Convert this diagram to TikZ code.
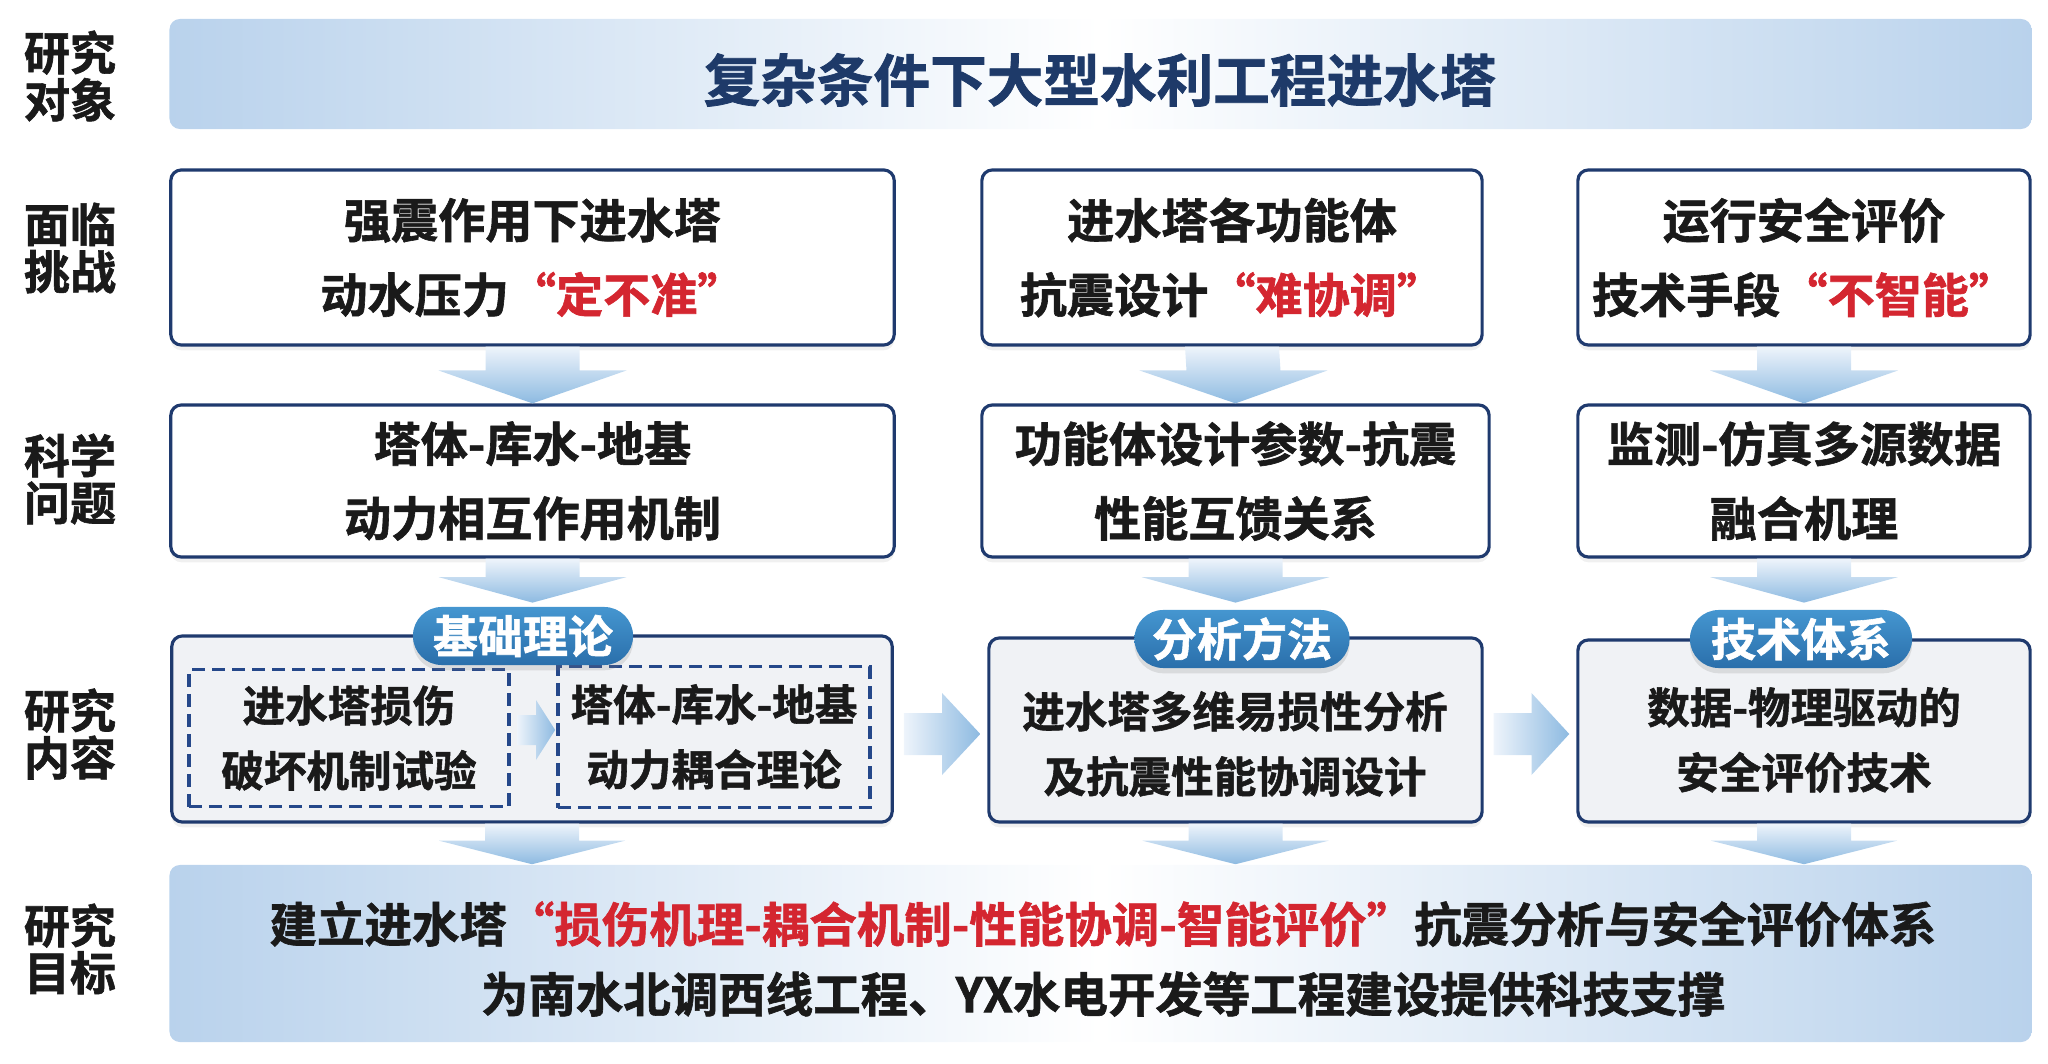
\documentclass[tikz,border=0pt]{standalone}
\usepackage{fontspec}
\setmainfont{Noto Sans CJK SC}[BoldFont={Noto Sans CJK SC Bold},
  BoldFeatures={FakeBold=1.3}]
\usepackage{tikz}
\usetikzlibrary{calc, shadows, positioning}
\usepackage{xcolor}
\definecolor{navy}{HTML}{1F3A6E}
\definecolor{titlenavy}{HTML}{1E3A69}
\definecolor{ink}{HTML}{1A1A1A}
\definecolor{hotred}{HTML}{D42630}
\definecolor{barblue}{HTML}{B9D2EC}
\definecolor{boxgrey}{HTML}{F0F2F5}
\definecolor{dashblue}{HTML}{25488A}
\definecolor{pilltop}{HTML}{4596D0}
\definecolor{pillbot}{HTML}{2A6FAB}
\definecolor{arrowtop}{HTML}{EEF4FB}
\definecolor{arrowblue}{HTML}{8DBAE1}
\newcommand{\redq}[1]{\textcolor{hotred}{#1}}
\newcommand{\downarr}[4]{%
  \shade[top color=arrowtop, bottom color=arrowblue]
    ($(#1)+(-#3,0)$) -- ($(#1)+(#3,0)$) -- ($(#1)!0.42!(#2)+(#3,0)$)
    -- ($(#1)!0.42!(#2)+(#4,0)$) -- (#2) -- ($(#1)!0.42!(#2)+(-#4,0)$)
    -- ($(#1)!0.42!(#2)+(-#3,0)$) -- cycle;}
\newcommand{\rightarr}[4]{%
  \shade[left color=arrowtop, right color=arrowblue]
    ($(#1)+(0,-#3)$) -- ($(#1)!0.5!(#2)+(0,-#3)$) -- ($(#1)!0.5!(#2)+(0,-#4)$)
    -- (#2) -- ($(#1)!0.5!(#2)+(0,#4)$) -- ($(#1)!0.5!(#2)+(0,#3)$)
    -- ($(#1)+(0,#3)$) -- cycle;}
\tikzset{
  box/.style={rectangle, rounded corners=3pt, draw=navy, line width=0.9pt,
              fill=white, align=center, inner sep=0pt, text=ink,
              font=\bfseries\fontsize{13.4}{21.2}\selectfont,
              drop shadow={opacity=0.12, shadow xshift=0pt, shadow yshift=-1.5pt}},
  boxG/.style={box, fill=boxgrey},
  dbox/.style={rectangle, draw=dashblue, line width=1pt,
               dash pattern=on 3.7pt off 2pt, align=center, inner sep=0pt,
               text=ink, font=\bfseries\fontsize{12.1}{18.5}\selectfont},
  bar/.style={rectangle, rounded corners=3pt, left color=barblue,
              right color=barblue, middle color=white, inner sep=0pt,
              minimum width=18.61cm},
  pill/.style={rectangle, rounded corners=8.2pt, top color=pilltop,
               bottom color=pillbot, text=white, inner sep=0pt,
               minimum height=0.58cm,
               font=\bfseries\fontsize{12.8}{14}\selectfont,
               drop shadow={opacity=0.2, shadow xshift=0pt, shadow yshift=-1.5pt}},
  rowlabel/.style={align=center, inner sep=0pt, text=ink,
                   font=\bfseries\fontsize{13.1}{13.4}\selectfont},
  plain/.style={align=center, inner sep=0pt, text=ink},
}
\begin{document}
\begin{tikzpicture}[x=0.01cm, y=-0.01cm]
  \useasboundingbox (0,0) rectangle (2048,1064);

  %% Row labels
  \node[rowlabel] (lab1) at (70,76)  {研究\\对象};
  \node[rowlabel] (lab2) at (70,248) {面临\\挑战};
  \node[rowlabel] (lab3) at (70,479) {科学\\问题};
  \node[rowlabel] (lab4) at (70,734) {研究\\内容};
  \node[rowlabel] (lab5) at (70,949) {研究\\目标};

  %% Research object
  \node[bar, minimum height=1.10cm] (obj) at (1100.5,74) {};
  \node[plain, text=titlenavy, font=\bfseries\fontsize{16.1}{18}\selectfont]
    (title) at (1100,80) {复杂条件下大型水利工程进水塔};

  %% Challenges
  \node[box, minimum width=7.23cm, minimum height=1.75cm] (r2a) at (532.5,257.5)
    {强震作用下进水塔\\动水压力\redq{“定不准”}};
  \node[box, minimum width=5.00cm, minimum height=1.75cm] (r2b) at (1232,257.5)
    {进水塔各功能体\\抗震设计\redq{“难协调”}};
  \node[box, minimum width=4.52cm, minimum height=1.75cm] (r2c) at (1804,257.5)
    {运行安全评价\\技术手段\redq{“不智能”}};

  %% Scientific problems
  \node[box, minimum width=7.23cm, minimum height=1.52cm] (r3a) at (532.5,481)
    {塔体-库水-地基\\动力相互作用机制};
  \node[box, minimum width=5.07cm, minimum height=1.52cm] (r3b) at (1235.5,481)
    {功能体设计参数-抗震\\性能互馈关系};
  \node[box, minimum width=4.52cm, minimum height=1.52cm] (r3c) at (1804,481)
    {监测-仿真多源数据\\融合机理};

  \downarr{r2a.south}{r3a.north}{47}{94}
  \downarr{r2b.south}{r3b.north}{47}{94}
  \downarr{r2c.south}{r3c.north}{47}{94}

  %% Research content
  \node[boxG, minimum width=7.20cm, minimum height=1.86cm] (r4a) at (532,729) {};
  \node[boxG, minimum width=4.93cm, minimum height=1.84cm] (r4b) at (1235.5,730) {};
  \node[boxG, minimum width=4.52cm, minimum height=1.82cm] (r4c) at (1804,731) {};

  \node[dbox, minimum width=3.20cm, minimum height=1.37cm] (d4a) at (349,738)
    {进水塔损伤\\破坏机制试验};
  \node[dbox, minimum width=3.12cm, minimum height=1.41cm] (d4b) at (714,737)
    {塔体-库水-地基\\动力耦合理论};
  \node[plain, font=\bfseries\fontsize{12.1}{18.5}\selectfont] (t4b) at (1235,744)
    {进水塔多维易损性分析\\及抗震性能协调设计};
  \node[plain, font=\bfseries\fontsize{12.1}{18.5}\selectfont] (t4c) at (1804,740)
    {数据-物理驱动的\\安全评价技术};

  \coordinate (s1) at ($(d4a.east)+(6,-8)$);
  \coordinate (e1) at ($(d4a.east -| d4b.west)+(-1,-8)$);
  \rightarr{s1}{e1}{15}{30}
  \coordinate (s2) at ($(r4a.east)+(10,5)$);
  \coordinate (e2) at ($(r4a.east -| r4b.west)+(-7,5)$);
  \rightarr{s2}{e2}{21}{41}
  \coordinate (s3) at ($(r4b.east)+(10,4)$);
  \coordinate (e3) at ($(r4b.east -| r4c.west)+(-7,4)$);
  \rightarr{s3}{e3}{21}{41}

  \downarr{r3a.south}{$(r3a.south)+(0,44)$}{47}{94}
  \downarr{r3b.south}{$(r3b.south)+(0,44)$}{47}{94}
  \downarr{r3c.south}{$(r3c.south)+(0,44)$}{47}{94}

  \node[pill, minimum width=2.20cm] (p4a) at (523,636)  {基础理论};
  \node[pill, minimum width=2.15cm] (p4b) at (1242,639) {分析方法};
  \node[pill, minimum width=2.22cm] (p4c) at (1801,639) {技术体系};

  %% Research goal
  \node[bar, minimum height=1.77cm] (goal) at (1100.5,953.5) {};
  \node[plain, font=\bfseries\fontsize{13.5}{19.9}\selectfont] (tgoal) at (1103,959)
    {建立进水塔\redq{“损伤机理-耦合机制-性能协调-智能评价”}抗震分析与安全评价体系\\
     为南水北调西线工程、YX水电开发等工程建设提供科技支撑};

  \downarr{r4a.south}{r4a.south |- goal.north}{47}{93}
  \downarr{r4b.south}{r4b.south |- goal.north}{47}{93}
  \downarr{r4c.south}{r4c.south |- goal.north}{47}{93}
\end{tikzpicture}
\end{document}
